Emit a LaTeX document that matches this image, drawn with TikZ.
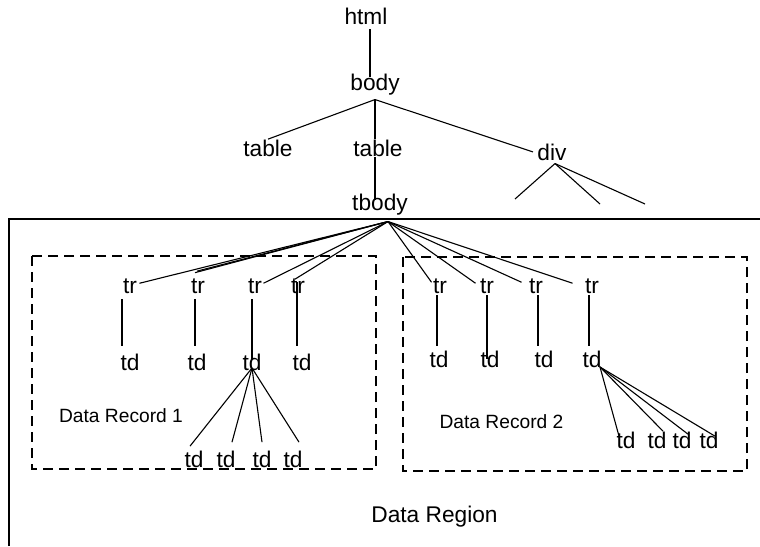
\documentclass[tikz,border=0pt]{standalone}
\usepackage{fontspec}
\setmainfont{Liberation Sans}
\usepackage{tikz}
\usetikzlibrary{calc}

\begin{document}
\begin{tikzpicture}[
    x=1pt, y=-1pt,              % pixel grid, y going down
    line width=1.1pt,
    ]
% -------------------------------------------------
\tikzset{
  tag/.style={anchor=base, inner sep=0pt, font=\fontsize{22.7}{26}\selectfont,
              text height=16.3pt, text depth=4.8pt},
  note/.style={anchor=base, inner sep=0pt, font=\fontsize{19.2}{22}\selectfont},
  recbox/.style={draw, line width=1.2pt, dash pattern=on 10pt off 6pt},
  region/.style={draw, line width=2pt}
}
\useasboundingbox (0,0) rectangle (760,546);

% upper part of the tree
\node [tag] (html)   at (366,24)    {html};
\node [tag] (body)   at (375,90.7)  {body};
\node [tag] (tableA) at (268,156)   {table};
\node [tag] (tableB) at (378,156)   {table};
\node [tag] (div)    at (552,160.7) {div};
\node [tag] (tbody)  at (380,210.7) {tbody};

% data region and records
\draw [region] (9,546) -- (9,219) -- (760,219);
\draw [recbox] (32,256) rectangle (376,469);
\draw [recbox] (403,257) rectangle (747,471);

\node [note] (recA) at (121,422)   {Data Record 1};
\node [note] (recB) at (501.5,428) {Data Record 2};
\node [tag] (regionlbl) at (434.5,522) {Data Region};

% record 1
\node [tag] (tr1) at (130,293) {tr};
\node [tag] (tr2) at (198,293) {tr};
\node [tag] (tr3) at (255,293) {tr};
\node [tag] (tr4) at (298,293) {tr};
\node [tag] (td1) at (130,370) {td};
\node [tag] (td2) at (197,370) {td};
\node [tag] (td3) at (252,370) {td};
\node [tag] (td4) at (302,370) {td};
\node [tag] (tdA) at (194,467) {td};
\node [tag] (tdB) at (226,467) {td};
\node [tag] (tdC) at (262,467) {td};
\node [tag] (tdD) at (293,467) {td};

% record 2
\node [tag] (tr5) at (440,293) {tr};
\node [tag] (tr6) at (487,293) {tr};
\node [tag] (tr7) at (536,293) {tr};
\node [tag] (tr8) at (592,293) {tr};
\node [tag] (td5) at (439,367) {td};
\node [tag] (td6) at (490,367) {td};
\node [tag] (td7) at (544,367) {td};
\node [tag] (td8) at (592,367) {td};
\node [tag] (tdE) at (626,448) {td};
\node [tag] (tdF) at (657,448) {td};
\node [tag] (tdG) at (682,448) {td};
\node [tag] (tdH) at (709,448) {td};

% hubs and free ends
\coordinate (bodyhub) at ($(body.south)+(0,3.5)$);
\coordinate (divhub)  at ($(div.south)+(3,-2.5)$);
\coordinate (tbhub)   at ($(tbody.south)+(8,5.5)$);
\coordinate (hubA)    at ($(td3.base)+(0,-2)$);
\coordinate (hubB)    at ($(td8.base)+(8,0)$);
\coordinate (divA) at (515,199);
\coordinate (divB) at (600,204);
\coordinate (divC) at (645,204);

% connectors
\draw ($(html.south)+(4,0)$) -- ($(body.north)+(-5,3)$);
\draw (bodyhub) -- (tableA.north);
\draw (bodyhub) -- (bodyhub |- tableB.north);
\draw (bodyhub) -- ($(div.west)+(-4,-3)$);
\draw ($(tableB.south)+(-3,-4)$) -- ($(tbody.north)+(-5,6)$);
\foreach \c in {divA,divB,divC}
  \draw (divhub) -- (\c);

\draw (tbhub) -- ($(tr1.east)+(2,-4)$);
\draw (tbhub) -- ($(tr2.north)+(-3,-3.5)$);
\draw (tbhub) -- ($(tr2.north)+(-1,-5)$);
\draw (tbhub) -- ($(tr3.east)+(1,-4)$);
\draw (tbhub) -- ($(tr4.north)+(-3,3)$);
\draw (tbhub) -- ($(tr5.west)+(-1,-5)$);
\draw (tbhub) -- ($(tr6.west)+(-4,-4)$);
\draw (tbhub) -- ($(tr7.west)+(-7,-5)$);
\draw (tbhub) -- ($(tr8.west)+(-12,-4)$);

\draw ($(tr1.south)+(-8,1)$) -- ($(td1.north)+(-8,-7)$);
\draw ($(tr2.south)+(-3,1)$) -- ($(td2.north)+(-2,-7)$);
\draw ($(tr3.south)+(-3,1)$) -- ($(td3.north)+(0,6)$);
\draw ($(tr4.north)+(-1,6)$) -- ($(td4.north)+(-5,-7)$);
\draw ($(tr5.south)+(-3,-3)$) -- ($(td5.north)+(-2,-4)$);
\draw ($(tr6.south)+(0,-3)$)  -- ($(td6.north)+(-3,9)$);
\draw ($(tr7.south)+(2,-3)$)  -- ($(td7.north)+(-6,-4)$);
\draw ($(tr8.south)+(-3,-3)$) -- ($(td8.north)+(-3,-4)$);

\draw (hubA) -- ($(tdA.north)+(-4,-4)$);
\draw (hubA) -- ($(tdB.north)+(6,-8)$);
\draw (hubA) -- ($(tdC.north)+(0,-8)$);
\draw (hubA) -- ($(tdD.north)+(6,-8)$);
\draw (hubB) -- ($(tdE.north)+(-7,5)$);
\draw (hubB) -- ($(tdF.north)+(6,0)$);
\draw (hubB) -- ($(tdG.north)+(6,3)$);
\draw (hubB) -- ($(tdH.north)+(6,5)$);

\end{tikzpicture}
\end{document}
